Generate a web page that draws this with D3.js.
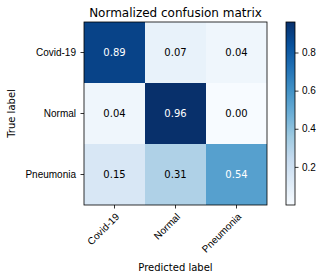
<!DOCTYPE html>
<html>
<head>
<meta charset="utf-8">
<script src="https://cdn.jsdelivr.net/npm/d3@7"></script>
<style>
  body { margin: 0; background: #fff; }
  svg { font-family: "DejaVu Sans", sans-serif; }
  .axis path, .axis line { stroke: #000; stroke-width: 0.8; }
  .axis text { font-size: 10px; fill: #000; }
</style>
</head>
<body>
<div id="chart"></div>
<script>
var classes = ['Covid-19', 'Normal', 'Pneumonia'];
var rowCovid = [0.89, 0.07, 0.04];
var rowNormal = [0.04, 0.96, 0.00];
var rowPneumonia = [0.15, 0.31, 0.54];
var colorbarTicks = [0.2, 0.4, 0.6, 0.8];

var matrix = [rowCovid, rowNormal, rowPneumonia];

var width = 325, height = 280;
var plot = {left: 84, top: 22, size: 183};
var bar = {left: 286, width: 9};

var svg = d3.select('#chart').append('svg')
    .attr('width', width)
    .attr('height', height);

var allVals = d3.merge(matrix);
var vmin = d3.min(allVals), vmax = d3.max(allVals);

// matplotlib "Blues" is a linear ramp over the 9 ColorBrewer stops
var stops = d3.schemeBlues[9];
var color = d3.scaleLinear()
    .domain(stops.map(function(d, i) { return vmin + (vmax - vmin) * i / (stops.length - 1); }))
    .range(stops)
    .interpolate(d3.interpolateRgb);

var x = d3.scaleBand().domain(classes).range([plot.left, plot.left + plot.size]);
var y = d3.scaleBand().domain(classes).range([plot.top, plot.top + plot.size]);

var cells = [];
matrix.forEach(function(row, i) {
    row.forEach(function(v, j) {
        cells.push({row: classes[i], col: classes[j], value: v});
    });
});

var g = svg.append('g');
g.selectAll('rect.cell').data(cells).enter().append('rect')
    .attr('class', 'cell')
    .attr('x', function(d) { return x(d.col); })
    .attr('y', function(d) { return y(d.row); })
    .attr('width', x.bandwidth())
    .attr('height', y.bandwidth())
    .attr('fill', function(d) { return color(d.value); });

var thresh = vmax / 2;
g.selectAll('text.val').data(cells).enter().append('text')
    .attr('class', 'val')
    .attr('x', function(d) { return x(d.col) + x.bandwidth() / 2; })
    .attr('y', function(d) { return y(d.row) + y.bandwidth() / 2; })
    .attr('dy', '0.35em')
    .attr('text-anchor', 'middle')
    .style('font-size', '10px')
    .attr('fill', function(d) { return d.value > thresh ? '#fff' : '#000'; })
    .text(function(d) { return d.value.toFixed(2); });

// frame
svg.append('rect')
    .attr('x', plot.left).attr('y', plot.top)
    .attr('width', plot.size).attr('height', plot.size)
    .attr('fill', 'none').attr('stroke', '#000').attr('stroke-width', 0.8);

var xAxis = svg.append('g')
    .attr('class', 'axis')
    .attr('transform', 'translate(0,' + (plot.top + plot.size) + ')')
    .call(d3.axisBottom(x).tickSizeOuter(0).tickSize(3.5));
xAxis.select('.domain').remove();
// rotate about the top-right corner of each label (rotation_mode="anchor")
xAxis.selectAll('.tick text')
    .attr('text-anchor', 'end')
    .attr('x', 0).attr('y', 0)
    .attr('dy', '0.76em')
    .attr('transform', 'translate(0,7) rotate(-45)');

var yAxis = svg.append('g')
    .attr('class', 'axis')
    .attr('transform', 'translate(' + plot.left + ',0)')
    .call(d3.axisLeft(y).tickSizeOuter(0).tickSize(3.5).tickPadding(4.5));
yAxis.select('.domain').remove();

// colorbar
var cb = d3.scaleLinear().domain([vmin, vmax]).range([plot.top + plot.size, plot.top]);
var defs = svg.append('defs');
var grad = defs.append('linearGradient')
    .attr('id', 'cbgrad')
    .attr('x1', 0).attr('y1', 1).attr('x2', 0).attr('y2', 0);
stops.forEach(function(c, i) {
    grad.append('stop')
        .attr('offset', i / (stops.length - 1))
        .attr('stop-color', c);
});
svg.append('rect')
    .attr('x', bar.left).attr('y', plot.top)
    .attr('width', bar.width).attr('height', plot.size)
    .attr('fill', 'url(#cbgrad)')
    .attr('stroke', '#000').attr('stroke-width', 0.8);

var cbAxis = svg.append('g')
    .attr('class', 'axis')
    .attr('transform', 'translate(' + (bar.left + bar.width) + ',0)')
    .call(d3.axisRight(cb).tickValues(colorbarTicks).tickSize(3.5).tickPadding(3.5)
        .tickFormat(d3.format('.1f')));
cbAxis.select('.domain').remove();

// titles
svg.append('text')
    .attr('x', plot.left + plot.size / 2)
    .attr('y', 17)
    .attr('text-anchor', 'middle')
    .style('font-size', '12px')
    .text('Normalized confusion matrix');

svg.append('text')
    .attr('transform', 'translate(15,' + (plot.top + plot.size / 2) + ') rotate(-90)')
    .attr('text-anchor', 'middle')
    .style('font-size', '10px')
    .text('True label');

svg.append('text')
    .attr('x', plot.left + plot.size / 2)
    .attr('y', 271)
    .attr('text-anchor', 'middle')
    .style('font-size', '10px')
    .text('Predicted label');
</script>
</body>
</html>
